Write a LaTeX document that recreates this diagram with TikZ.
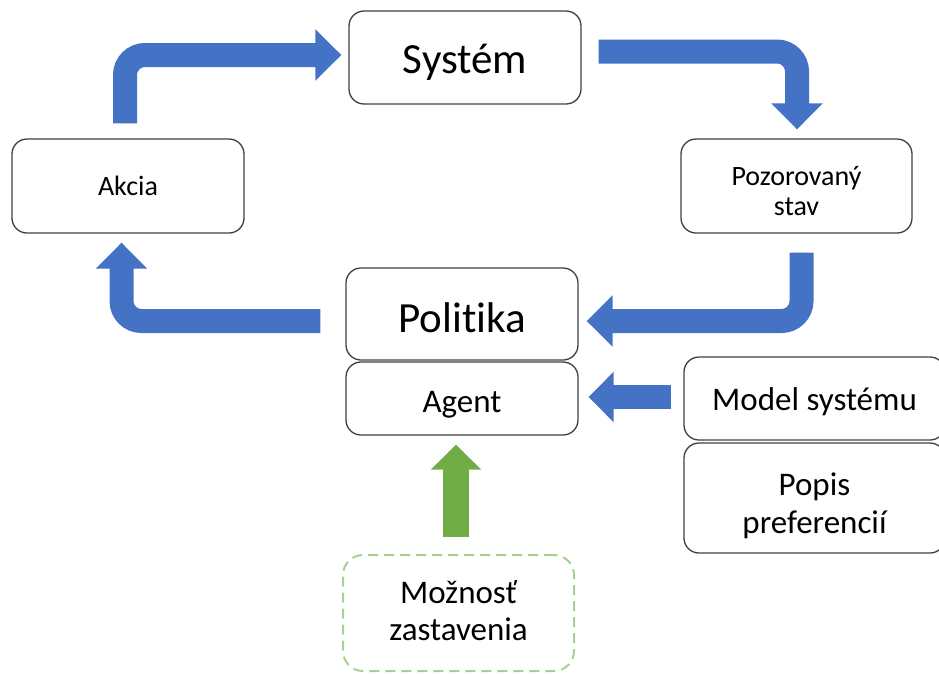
\documentclass[tikz,border=0pt]{standalone}
\usepackage{fontspec}
\setmainfont{Carlito}[Ligatures=NoCommon]
\usetikzlibrary{arrows.meta}
\definecolor{flowblue}{HTML}{4472C4}
\definecolor{stopgreen}{HTML}{70AD47}
\definecolor{dashgreen}{HTML}{A9D18E}
\tikzset{
  box/.style={draw=black!75, line width=1.3pt, rounded corners=15pt, inner sep=0pt, align=center},
  textbox/.style 2 args={text height=#1, text depth=#2},
  flow/.style={draw=flowblue, line width=24pt, rounded corners=20pt, -{Triangle[length=26pt,width=50pt]}},
}
\begin{document}
\begin{tikzpicture}[x=1pt, y=-1pt]
        \useasboundingbox (0,0) rectangle (939,675);
        \node[box, textbox={31pt}{0pt}, minimum width=232pt, minimum height=93pt, font=\fontsize{43}{47}\selectfont] (sys) at (465,57.5) {Systém};
        \node[box, textbox={18pt}{0pt}, minimum width=232pt, minimum height=94pt, font=\fontsize{28}{31}\selectfont] (akcia) at (128,186) {Akcia};
        \node[box, textbox={58pt}{0pt}, minimum width=231pt, minimum height=94pt, font=\fontsize{28}{30}\selectfont] (poz) at (796.5,186) {Pozorovaný\\stav};
        \node[box, textbox={36pt}{0pt}, minimum width=232pt, minimum height=92pt, font=\fontsize{43}{47}\selectfont] (pol) at (462,314) {Politika};
        \node[box, textbox={27pt}{0pt}, minimum width=232pt, minimum height=73pt, font=\fontsize{33}{38}\selectfont] (agent) at (462,398.5) {Agent};
        \node[box, textbox={23pt}{0pt}, minimum width=261pt, minimum height=83pt, font=\fontsize{33}{38}\selectfont] (model) at (814.5,398.5) {Model systému};
        \node[box, textbox={70pt}{0pt}, minimum width=261pt, minimum height=110pt, font=\fontsize{33}{38}\selectfont] (popis) at (814.5,498) {Popis\\preferencií};
        \node[box, textbox={54pt}{0pt}, draw=dashgreen, line width=2pt, dash pattern=on 10pt off 6pt, rounded corners=20pt, minimum width=231pt, minimum height=116pt, font=\fontsize{33}{37}\selectfont] (moznost) at (458.5,613) {Možnosť\\zastavenia};
        \draw[flow] ([xshift=-3pt,yshift=15pt]akcia.north) |- ([xshift=-7pt,yshift=2.5pt]sys.west);
        \draw[flow] ([xshift=17pt,yshift=6pt]sys.east) -| ([xshift=0.5pt,yshift=9pt]poz.north);
        \draw[flow] ([xshift=5pt,yshift=-19pt]poz.south) |- ([xshift=8pt,yshift=-7pt]pol.east);
        \draw[flow] ([xshift=-25pt,yshift=-7pt]pol.west) -| ([xshift=-6.5pt,yshift=-9pt]akcia.south);
        \draw[flow, -{Triangle[length=25pt,width=49pt]}] ([xshift=-12pt,yshift=1.5pt]model.west) -- ([xshift=10pt,yshift=1.5pt]agent.east);
        \draw[flow, draw=stopgreen, line width=26pt, -{Triangle[length=25pt,width=49pt]}] ([xshift=-2.5pt,yshift=17pt]moznost.north) -- ([xshift=-6pt,yshift=-9pt]agent.south);
\end{tikzpicture}
\end{document}
